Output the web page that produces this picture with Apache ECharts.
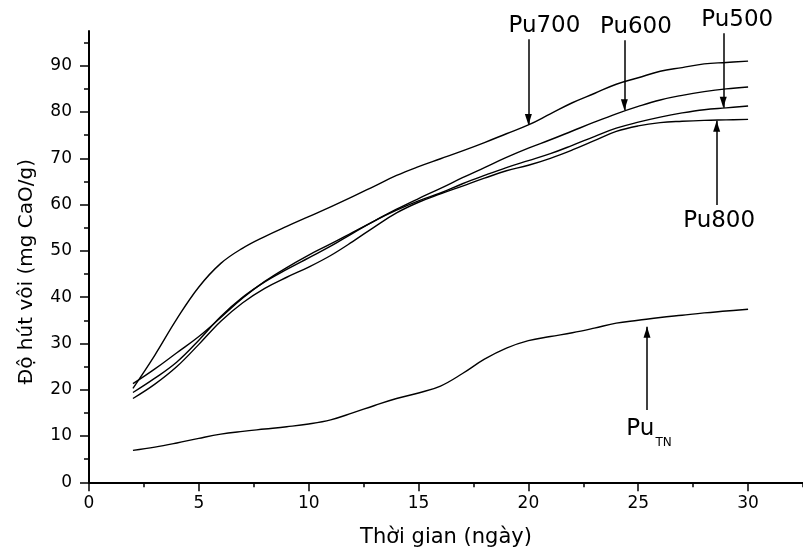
<!DOCTYPE html>
<html>
<head>
<meta charset="utf-8">
<script src="https://cdn.jsdelivr.net/npm/echarts@6/dist/echarts.min.js"></script>
<style>html,body{margin:0;padding:0;background:#fff;}#c{width:803px;height:554px;}</style>
</head>
<body>
<div id="c"></div>
<script>
const days = [2,3,4,5,6,7,8,9,10,11,12,13,14,15,16,17,18,19,20,21,22,23,24,25,26,27,28,29,30];
const puTN  = [6.9,7.6,8.5,9.5,10.4,11.0,11.5,12.0,12.6,13.5,15.0,16.6,18.1,19.3,20.8,23.5,26.6,29.0,30.6,31.5,32.3,33.3,34.4,35.0,35.6,36.1,36.6,37.0,37.4];
const pu700 = [20.3,27.5,35.3,42.2,47.3,50.6,53.1,55.3,57.4,59.5,61.7,64.0,66.3,68.2,69.9,71.6,73.4,75.3,77.2,79.6,82.0,84.0,86.0,87.4,88.8,89.6,90.4,90.7,91.0];
const pu600 = [21.3,24.5,28.0,31.5,35.6,39.8,43.4,46.4,49.1,51.5,54.0,56.5,59.0,61.3,63.5,65.8,68.0,70.2,72.2,74.0,75.9,77.8,79.6,81.2,82.6,83.6,84.4,85.0,85.4];
const pu500 = [19.4,22.5,26.0,30.7,35.8,40.0,43.3,46.0,48.5,51.0,53.8,56.5,58.8,60.8,62.5,64.5,66.3,68.0,69.5,71.0,72.8,74.7,76.5,77.8,78.9,79.8,80.5,80.9,81.3];
const pu800 = [18.1,21.2,25.0,29.8,34.8,38.8,41.9,44.3,46.5,49.0,52.0,55.2,58.2,60.5,62.3,64.0,65.7,67.3,68.5,70.0,71.8,73.8,75.8,77.0,77.7,78.0,78.2,78.3,78.4];

const xMajor = [0,5,10,15,20,25,30];
const xMinor = [2.5,7.5,12.5,17.5,22.5,27.5,32.5];
const yMajor = [0,10,20,30,40,50,60,70,80,90];
const yMinor = [5,15,25,35,45,55,65,75,85,95];

// annotation arrows: [label, x, yStart, yTip]
const notes = [
  ['Pu700', 20.0, 95.7, 77.2],
  ['Pu600', 24.37, 95.5, 80.4],
  ['Pu500', 28.87, 97.0, 80.9],
  ['Pu800', 28.57, 59.9, 78.1],
  ['PuTN', 25.4, 15.6, 33.6]
];
const labelShift = {Pu700: 32, Pu600: 23, Pu500: 28, Pu800: 5, PuTN: 4};

const FONT = 'DejaVu Sans';
const chart = echarts.init(document.getElementById('c'));

function pairs(vals){ return days.map((d,i)=>[d, vals[i]]); }

function noteLine(n){
  const [name, x, y0, y1] = n;
  const up = y1 > y0;
  const isTN = name === 'PuTN';
  return [
    {coord: [x, y0], label: {
      show: true, position: 'start',
      distance: isTN ? 7 : (up ? 4 : 2),
      formatter: isTN ? '{a|Pu}{b|TN}' : name,
      color: '#000', fontFamily: FONT, fontSize: 23,
      padding: [0, 0, 0, labelShift[name]],
      rich: {
        a: {fontSize: 23, lineHeight: 23, fontFamily: FONT, color: '#000', verticalAlign: 'top'},
        b: {fontSize: 12, lineHeight: 12, fontFamily: FONT, color: '#000', verticalAlign: 'top', padding: [20,0,0,1]}
      }
    }},
    {coord: [x, y1]}
  ];
}

const lineStyle = {color: '#000', width: 1.4};
function mkSeries(name, vals, noteIdx){
  return {
    name, type: 'line', data: pairs(vals), smooth: 0.4, showSymbol: false,
    lineStyle, xAxisIndex: 0, yAxisIndex: 0, silent: true,
    markLine: {
      silent: true, animation: false,
      symbol: ['none', 'triangle'], symbolSize: [7, 11], symbolOffset: [0, [0, 5.5]],
      lineStyle: {color: '#000', width: 1.5, type: 'solid'},
      data: [noteLine(notes[noteIdx])]
    }
  };
}

const axisBase = {
  type: 'value',
  axisLine: {show: true, onZero: false, lineStyle: {color: '#000', width: 2}},
  splitLine: {show: false}
};

chart.setOption({
  animation: false,
  backgroundColor: '#fff',
  grid: {left: 89, top: 31, width: 718, height: 451.3, containLabel: false},
  xAxis: [
    Object.assign({}, axisBase, {
      min: 0, max: 32.5, position: 'bottom',
      name: 'Thời gian (ngày)', nameLocation: 'middle', nameGap: 45,
      nameTextStyle: {fontFamily: FONT, fontSize: 21, color: '#000'},
      axisTick: {show: true, customValues: xMajor, length: 9, lineStyle: {color: '#000', width: 1.5}},
      axisLabel: {show: true, customValues: xMajor, margin: 13, fontFamily: FONT, fontSize: 17, color: '#000'}
    }),
    Object.assign({}, axisBase, {
      min: 0, max: 32.5, position: 'bottom',
      axisLine: {show: false, onZero: false},
      axisTick: {show: true, customValues: xMinor, length: 5, lineStyle: {color: '#000', width: 1.5}},
      axisLabel: {show: false}
    })
  ],
  yAxis: [
    Object.assign({}, axisBase, {
      min: 0, max: 97.5, position: 'left',
      name: 'Độ hút vôi (mg CaO/g)', nameLocation: 'middle', nameGap: 52,
      nameTextStyle: {fontFamily: FONT, fontSize: 20, color: '#000', padding: [0, 30, 0, 0]},
      axisTick: {show: true, customValues: yMajor, length: 9, lineStyle: {color: '#000', width: 1.5}},
      axisLabel: {show: true, customValues: yMajor, margin: 17, fontFamily: FONT, fontSize: 17, color: '#000'}
    }),
    Object.assign({}, axisBase, {
      min: 0, max: 97.5, position: 'left',
      axisLine: {show: false, onZero: false},
      axisTick: {show: true, customValues: yMinor, length: 5, lineStyle: {color: '#000', width: 1.5}},
      axisLabel: {show: false}
    })
  ],
  series: [
    mkSeries('Pu700', pu700, 0),
    mkSeries('Pu600', pu600, 1),
    mkSeries('Pu500', pu500, 2),
    mkSeries('Pu800', pu800, 3),
    mkSeries('PuTN', puTN, 4)
  ]
});
</script>
</body>
</html>
